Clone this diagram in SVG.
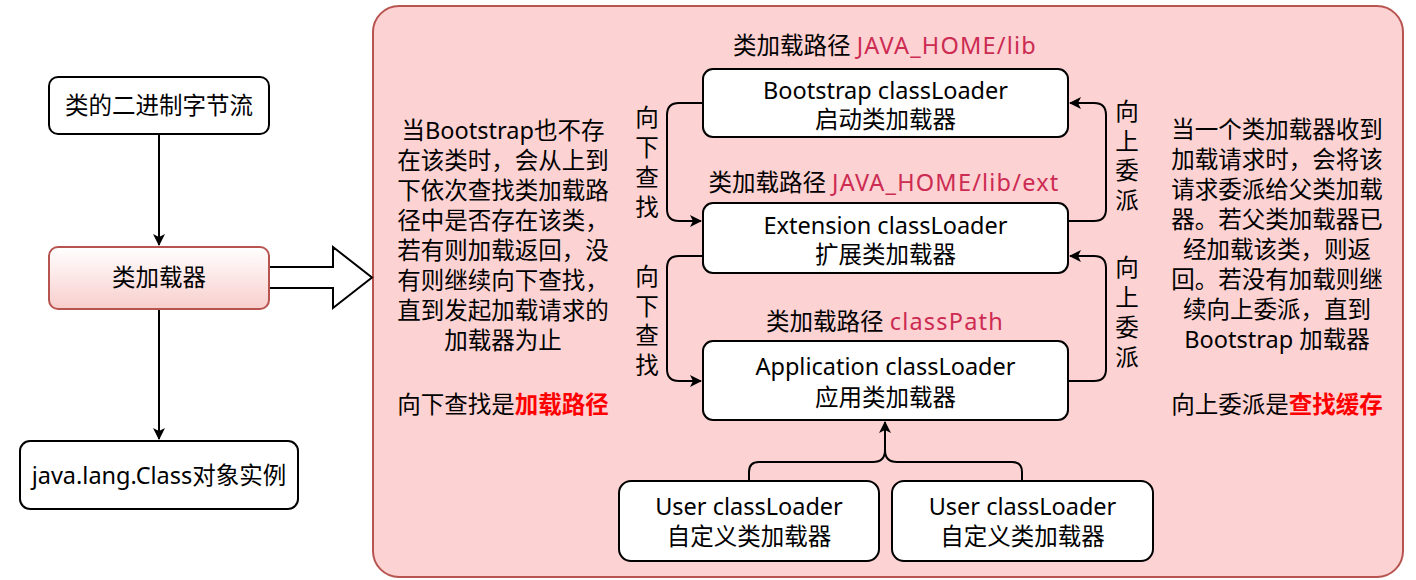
<svg xmlns="http://www.w3.org/2000/svg" width="1416" height="580" viewBox="0 0 1416 580">
<defs>
<linearGradient id="g1" x1="0" y1="0" x2="0" y2="1">
<stop offset="0" stop-color="#ffffff"/>
<stop offset="1" stop-color="#f8cecc"/>
</linearGradient>
<marker id="ah" viewBox="0 0 12 12" refX="11" refY="6" markerWidth="12" markerHeight="12" markerUnits="userSpaceOnUse" orient="auto">
<path d="M0,0 L12,6 L0,12 L3,6 Z" fill="#000"/>
</marker>
</defs>
<style>
text{font-family:"Noto Sans","Noto Sans CJK SC",sans-serif;font-size:23.5px;fill:#000;text-anchor:middle}
.box{fill:#fff;stroke:#000;stroke-width:2}
.conn{fill:none;stroke:#000;stroke-width:2}
.path{fill:#cc2b52;letter-spacing:1.2px}
.red{fill:#ff0000;font-weight:bold}
</style>
<rect x="373" y="6" width="1030" height="571" rx="26" fill="#fdd2d2" stroke="#b85450" stroke-width="2"/>
<g id="connectors">
<path class="conn" d="M159,134 V245" marker-end="url(#ah)"/>
<path class="conn" d="M159,309 V439" marker-end="url(#ah)"/>
<polygon points="269,267 333,267 333,247 372,277.5 333,308 333,288 269,288" fill="#fff" stroke="#000" stroke-width="2"/>
<path class="conn" d="M703,103 H679 Q667,103 667,115 V209 Q667,221 679,221 H701" marker-end="url(#ah)"/>
<path class="conn" d="M703,256 H679 Q667,256 667,268 V369 Q667,381 679,381 H701" marker-end="url(#ah)"/>
<path class="conn" d="M1068,221 H1094 Q1106,221 1106,209 V115 Q1106,103 1094,103 H1070" marker-end="url(#ah)"/>
<path class="conn" d="M1068,381 H1094 Q1106,381 1106,369 V268 Q1106,256 1094,256 H1070" marker-end="url(#ah)"/>
<path class="conn" d="M749,481 V472 Q749,462 759,462 H873 Q885,462 885,450 V422" marker-end="url(#ah)"/>
<path class="conn" d="M1022,481 V472 Q1022,462 1012,462 H897 Q885,462 885,450"/>
</g>
<g id="n-bytes"><rect class="box" x="49" y="77" width="220" height="57" rx="9"/><text x="159" y="114">类的二进制字节流</text></g>
<g id="n-loader"><rect x="49" y="247" width="220" height="62" rx="9" fill="url(#g1)" stroke="#b85450" stroke-width="2"/><text x="159" y="286">类加载器</text></g>
<g id="n-class"><rect class="box" x="20" y="441" width="278" height="68" rx="10"/><text x="159" y="484">java.lang.Class对象实例</text></g>
<g id="n-bootstrap"><rect class="box" x="703" y="69" width="365" height="68" rx="10"/><text x="885.5" y="99">Bootstrap classLoader</text><text x="885.5" y="128">启动类加载器</text></g>
<g id="n-ext"><rect class="box" x="703" y="203" width="365" height="70" rx="10"/><text x="885.5" y="234">Extension classLoader</text><text x="885.5" y="263">扩展类加载器</text></g>
<g id="n-app"><rect class="box" x="703" y="341" width="365" height="79" rx="10"/><text x="885.5" y="375">Application classLoader</text><text x="885.5" y="406">应用类加载器</text></g>
<g id="n-user1"><rect class="box" x="619" y="481" width="260" height="80" rx="12"/><text x="749" y="515">User classLoader</text><text x="749" y="545">自定义类加载器</text></g>
<g id="n-user2"><rect class="box" x="892" y="481" width="261" height="80" rx="12"/><text x="1022.5" y="515">User classLoader</text><text x="1022.5" y="545">自定义类加载器</text></g>
<g id="labels">
<text x="885" y="54">类加载路径 <tspan class="path">JAVA_HOME/lib</tspan></text>
<text x="884" y="191">类加载路径 <tspan class="path">JAVA_HOME/lib/ext</tspan></text>
<text x="885" y="330">类加载路径 <tspan class="path">classPath</tspan></text>
<text x="647" y="126"><tspan x="647">向</tspan><tspan x="647" dy="30">下</tspan><tspan x="647" dy="30">查</tspan><tspan x="647" dy="30">找</tspan></text>
<text x="647" y="285"><tspan x="647">向</tspan><tspan x="647" dy="29.5">下</tspan><tspan x="647" dy="29.5">查</tspan><tspan x="647" dy="29.5">找</tspan></text>
<text x="1127" y="120"><tspan x="1127">向</tspan><tspan x="1127" dy="29.5">上</tspan><tspan x="1127" dy="29.5">委</tspan><tspan x="1127" dy="29.5">派</tspan></text>
<text x="1127" y="276"><tspan x="1127">向</tspan><tspan x="1127" dy="30">上</tspan><tspan x="1127" dy="30">委</tspan><tspan x="1127" dy="30">派</tspan></text>
<text x="503" y="139"><tspan x="503">当Bootstrap也不存</tspan><tspan x="503" dy="30">在该类时，会从上到</tspan><tspan x="503" dy="30">下依次查找类加载路</tspan><tspan x="503" dy="30">径中是否存在该类，</tspan><tspan x="503" dy="30">若有则加载返回，没</tspan><tspan x="503" dy="30">有则继续向下查找，</tspan><tspan x="503" dy="30">直到发起加载请求的</tspan><tspan x="503" dy="30">加载器为止</tspan></text>
<text x="503" y="413">向下查找是<tspan class="red">加载路径</tspan></text>
<text x="1277" y="138"><tspan x="1277">当一个类加载器收到</tspan><tspan x="1277" dy="30">加载请求时，会将该</tspan><tspan x="1277" dy="30">请求委派给父类加载</tspan><tspan x="1277" dy="30">器。若父类加载器已</tspan><tspan x="1277" dy="30">经加载该类，则返</tspan><tspan x="1277" dy="30">回。若没有加载则继</tspan><tspan x="1277" dy="30">续向上委派，直到</tspan><tspan x="1277" dy="30">Bootstrap 加载器</tspan></text>
<text x="1277" y="413">向上委派是<tspan class="red">查找缓存</tspan></text>
</g>
</svg>
